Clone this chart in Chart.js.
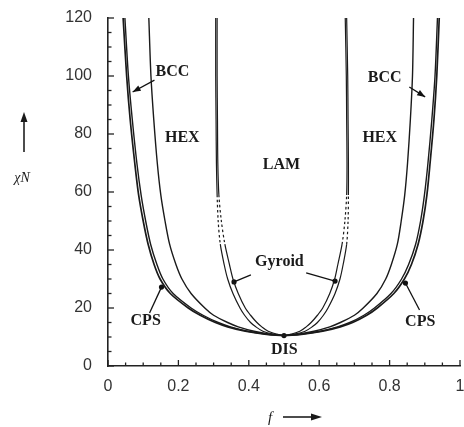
<!DOCTYPE html>
<html><head><meta charset="utf-8">
<script src="https://cdn.jsdelivr.net/npm/chart.js@4.4.0/dist/chart.umd.min.js"></script>
<style>html,body{margin:0;padding:0;background:#fff}</style>
</head><body>
<canvas id="c" width="464" height="427"></canvas>
<script>
// chi*N levels at which each phase boundary is sampled
const chiN = [10.5, 11, 12, 13.5, 15, 17.5, 20, 25, 30, 35, 42, 50, 59, 70, 85, 100, 120];
// f values of each boundary, left branch (f < 0.5) and right branch (f > 0.5)
const odtL = [0.5, 0.445, 0.39, 0.34, 0.305, 0.262, 0.228, 0.177, 0.148, 0.131, 0.114, 0.100, 0.087, 0.076, 0.063, 0.053, 0.043];
const odtR = [0.5, 0.555, 0.61, 0.66, 0.695, 0.735, 0.765, 0.812, 0.842, 0.862, 0.881, 0.895, 0.906, 0.915, 0.926, 0.934, 0.941];
const cpsL = [0.5, 0.45, 0.397, 0.348, 0.313, 0.270, 0.236, 0.185, 0.156, 0.139, 0.121, 0.107, 0.094, 0.082, 0.069, 0.058, 0.048];
const cpsR = [0.5, 0.55, 0.603, 0.652, 0.687, 0.727, 0.757, 0.804, 0.834, 0.854, 0.874, 0.888, 0.899, 0.909, 0.920, 0.929, 0.936];
const hexL = [0.5, 0.46, 0.415, 0.37, 0.34, 0.30, 0.275, 0.236, 0.21, 0.193, 0.175, 0.162, 0.150, 0.140, 0.130, 0.122, 0.116];
const hexR = [0.5, 0.54, 0.585, 0.63, 0.66, 0.70, 0.725, 0.764, 0.789, 0.805, 0.822, 0.833, 0.843, 0.851, 0.859, 0.865, 0.868];
const gyrL = [0.5, 0.47, 0.44, 0.42, 0.405, 0.388, 0.375, 0.355, 0.34, 0.33, 0.319, 0.313, 0.310, 0.308, 0.307, 0.306, 0.306];
const gyrR = [0.5, 0.53, 0.56, 0.58, 0.595, 0.612, 0.625, 0.645, 0.659, 0.668, 0.678, 0.682, 0.683, 0.683, 0.682, 0.681, 0.678];
const lamL = [0.5, 0.48, 0.455, 0.437, 0.423, 0.405, 0.39, 0.37, 0.355, 0.345, 0.332, 0.322, 0.315, 0.312, 0.311, 0.310, 0.310];
const lamR = [0.5, 0.52, 0.545, 0.563, 0.577, 0.595, 0.61, 0.63, 0.644, 0.653, 0.665, 0.673, 0.678, 0.679, 0.678, 0.677, 0.674];
// extrapolated (dotted) gyroid range
const dottedRange = [42, 59];
// marker dots: [f, chiN]
const markers = [[0.5, 10.5], [0.152, 27.2], [0.845, 28.6], [0.358, 29.0], [0.645, 29.3]];
// region labels: [text, f, chiN]
const regionLabels = [["BCC",0.183,101.4],["HEX",0.211,78.6],["LAM",0.493,69.3],["HEX",0.772,78.6],["BCC",0.786,99.3],["Gyroid",0.487,35.9],["CPS",0.107,15.5],["CPS",0.887,15.2],["DIS",0.501,5.5]];
// pointer lines: [f0, chiN0, f1, chiN1, head]
const pointers = [[0.132,98.6,0.070,94.5,true],[0.856,96.2,0.901,92.8,true],[0.406,31.4,0.358,29.0,false],[0.563,32.1,0.645,29.3,false],[0.118,18.3,0.152,27.2,false],[0.885,19.3,0.845,28.6,false]];
const xTicks = {min:0, max:1, step:0.05, major:0.2};
const yTicks = {min:0, max:120, step:5, major:20};

function curve(L, R) {
  const pts = [];
  for (let i = chiN.length - 1; i >= 0; i--) pts.push({x: L[i], y: chiN[i]});
  for (let i = 1; i < chiN.length; i++) pts.push({x: R[i], y: chiN[i]});
  return pts;
}
function isMajor(v, m) { const r = v / m; return Math.abs(r - Math.round(r)) < 1e-6; }
const dotted = ctx => {
  const a = ctx.p0.parsed.y, b = ctx.p1.parsed.y;
  return (Math.min(a,b) >= dottedRange[0]-1e-9 && Math.max(a,b) <= dottedRange[1]+1e-9) ? [2.5,2.5] : undefined;
};
const LC = '#1a1a1a';
function ds(L, R, w, dash) {
  const d = {type:'scatter', data: curve(L, R), showLine: true, borderColor: LC, borderWidth: w, pointRadius: 0, tension: 0.3, fill: false};
  if (dash) d.segment = {borderDash: dotted};
  return d;
}

const annot = {
  id: 'annot',
  afterDraw(chart) {
    const ctx = chart.ctx, xs = chart.scales.x, ys = chart.scales.y;
    const X = v => xs.getPixelForValue(v), Y = v => ys.getPixelForValue(v);
    ctx.save();
    ctx.strokeStyle = '#222'; ctx.lineWidth = 1.3;
    xs.ticks.forEach(t => { const p = X(t.value); const L = isMajor(t.value, xTicks.major) ? 6 : 3.5;
      ctx.beginPath(); ctx.moveTo(p, ys.bottom); ctx.lineTo(p, ys.bottom - L); ctx.stroke(); });
    ys.ticks.forEach(t => { const p = Y(t.value); const L = isMajor(t.value, yTicks.major) ? 6 : 3.5;
      ctx.beginPath(); ctx.moveTo(xs.left, p); ctx.lineTo(xs.left + L, p); ctx.stroke(); });
    // pointers
    ctx.strokeStyle = '#111'; ctx.fillStyle = '#111'; ctx.lineWidth = 1.3;
    pointers.forEach(([f0,c0,f1,c1,head]) => {
      const x0 = X(f0), y0 = Y(c0), x1 = X(f1), y1 = Y(c1);
      ctx.beginPath(); ctx.moveTo(x0, y0); ctx.lineTo(x1, y1); ctx.stroke();
      if (head) {
        const a = Math.atan2(y1 - y0, x1 - x0), hl = 8, hw = 3;
        ctx.beginPath(); ctx.moveTo(x1, y1);
        ctx.lineTo(x1 - hl*Math.cos(a) + hw*Math.sin(a), y1 - hl*Math.sin(a) - hw*Math.cos(a));
        ctx.lineTo(x1 - hl*Math.cos(a) - hw*Math.sin(a), y1 - hl*Math.sin(a) + hw*Math.cos(a));
        ctx.closePath(); ctx.fill();
      }
    });
    // region labels
    ctx.font = 'bold 16px "Liberation Serif", serif';
    ctx.textAlign = 'center'; ctx.textBaseline = 'middle'; ctx.fillStyle = '#1a1a1a';
    regionLabels.forEach(([t,f,c]) => ctx.fillText(t, X(f), Y(c)));
    // y axis title with up arrow
    ctx.font = 'italic 14px "Liberation Serif", serif';
    ctx.fillText('\u03C7N', 22, 178);
    ctx.lineWidth = 1.5;
    ctx.beginPath(); ctx.moveTo(24, 152); ctx.lineTo(24, 120); ctx.stroke();
    ctx.beginPath(); ctx.moveTo(24, 112); ctx.lineTo(20.5, 122); ctx.lineTo(27.5, 122); ctx.closePath(); ctx.fill();
    // x axis title with right arrow
    ctx.font = 'italic 15px "Liberation Serif", serif';
    ctx.fillText('f', 270, 418);
    ctx.beginPath(); ctx.moveTo(283, 417); ctx.lineTo(313, 417); ctx.stroke();
    ctx.beginPath(); ctx.moveTo(322, 417); ctx.lineTo(311, 413.5); ctx.lineTo(311, 420.5); ctx.closePath(); ctx.fill();
    ctx.restore();
  }
};

new Chart(document.getElementById('c'), {
  type: 'scatter',
  data: { datasets: [
    ds(odtL, odtR, 1.7, false),
    ds(cpsL, cpsR, 1.4, false),
    ds(hexL, hexR, 1.4, false),
    ds(gyrL, gyrR, 1.2, true),
    ds(lamL, lamR, 1.2, true),
    {type:'scatter', data: markers.map(([f,c]) => ({x:f, y:c})), pointRadius: 2.6, pointBackgroundColor: '#111', pointBorderWidth: 0, showLine: false}
  ]},
  plugins: [annot],
  options: {
    responsive: false, animation: false, devicePixelRatio: 1,
    layout: {padding: {top: 18, right: 1, left: 0, bottom: 0}},
    plugins: {legend: {display: false}, tooltip: {enabled: false}},
    scales: {
      x: {type: 'linear', min: xTicks.min, max: xTicks.max,
        grid: {display: false, drawTicks: false}, border: {display: true, color: '#222', width: 1.6},
        ticks: {stepSize: xTicks.step, autoSkip: false, maxRotation: 0, padding: 11, color: '#333',
          font: {family: '"Liberation Sans", Arial, sans-serif', size: 16},
          callback: v => isMajor(v, xTicks.major) ? String(Math.round(v*10)/10) : ''},
        afterFit: s => { s.height = 61; s.paddingLeft = 0; s.paddingRight = 0; }},
      y: {type: 'linear', min: yTicks.min, max: yTicks.max,
        grid: {display: false, drawTicks: false}, border: {display: true, color: '#222', width: 1.6},
        ticks: {stepSize: yTicks.step, autoSkip: false, padding: 16, color: '#333',
          font: {family: '"Liberation Sans", Arial, sans-serif', size: 16},
          callback: v => isMajor(v, yTicks.major) ? String(Math.round(v)) : ''},
        afterFit: s => { s.width = 108; s.paddingTop = 0; s.paddingBottom = 0; }}
    }
  }
});
</script>
</body></html>
